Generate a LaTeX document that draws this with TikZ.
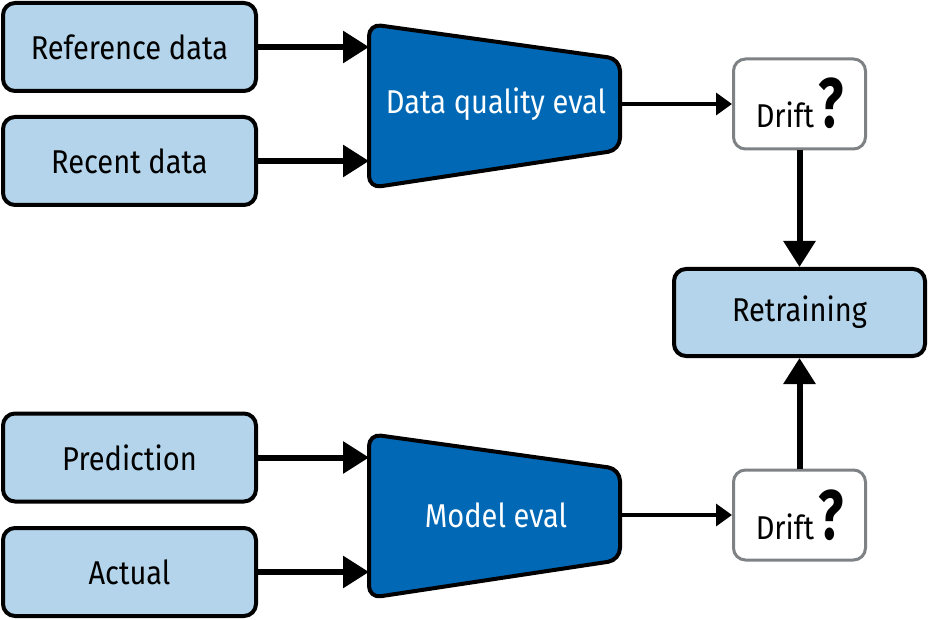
\documentclass[tikz,border=0pt]{standalone}
\usepackage{fontspec}
\setmainfont{Fira Sans}[FakeStretch=0.88]
\usetikzlibrary{arrows.meta}
\definecolor{lblue}{HTML}{B3D4EA}
\definecolor{dblue}{HTML}{0068B5}
\definecolor{bgray}{HTML}{7E8285}
\tikzset{
  lbl/.style={font=\fontsize{33}{36}\selectfont},
  inbox/.style={draw=black, line width=4pt, fill=lblue, rounded corners=12pt, minimum width=253pt, minimum height=88pt, inner sep=0pt, lbl},
  evalshape/.style={draw=black, line width=4pt, fill=dblue, rounded corners=12pt},
  evaltext/.style={text=white, lbl},
  driftbox/.style={draw=bgray, line width=3pt, fill=white, rounded corners=12pt, minimum width=132pt, minimum height=90pt, inner sep=0pt},
  thickarr/.style={line width=6pt, -{Triangle[length=26pt, width=31pt]}},
  thinarr/.style={line width=3.5pt, -{Triangle[length=16pt, width=22pt]}},
}
\newcommand{\driftlabel}{\fontsize{33}{36}\selectfont Drift\hspace{4pt}\scalebox{0.85}[1]{\bfseries\fontsize{70}{70}\selectfont ?}}
\begin{document}
\begin{tikzpicture}[x=1pt, y=-1pt]
\useasboundingbox (0,0) rectangle (929,620);
% inputs
\node[inbox] (ref) at (129.5,47) {Reference data};
\node[inbox] (rec) at (129.5,161) {Recent data};
\node[inbox] (pred) at (129.5,457.5) {Prediction};
\node[inbox] (act) at (129.5,572) {Actual};
% data quality eval
\draw[evalshape] (369,24) -- (369,188) -- (620,150) -- (620,59) -- cycle;
\node[evaltext] (dq) at (496,104) {Data quality eval};
\coordinate (dqin1) at (369,47);
\coordinate (dqin2) at (369,161);
\coordinate (dqout) at (620,104);
% model eval
\draw[evalshape] (369,434) -- (369,598) -- (620,560) -- (620,469) -- cycle;
\node[evaltext] (me) at (496,515) {Model eval};
\coordinate (mein1) at (369,457.5);
\coordinate (mein2) at (369,572);
\coordinate (meout) at (620,515);
% drift boxes
\node[driftbox] (d1) at (799.5,104) {};
\node[anchor=base] (d1t) at (799.5,128) {\driftlabel};
\node[driftbox] (d2) at (799.5,515) {};
\node[anchor=base] (d2t) at (799.5,539) {\driftlabel};
% retraining
\node[inbox, minimum width=251pt, minimum height=87pt] (rt) at (799.5,312.5) {Retraining};
% connectors
\draw[thickarr] (ref.east) -- (dqin1);
\draw[thickarr] (rec.east) -- (dqin2);
\draw[thickarr] (pred.east) -- (mein1);
\draw[thickarr] (act.east) -- (mein2);
\draw[thinarr] (dqout) -- (d1.west);
\draw[thinarr] (meout) -- (d2.west);
\draw[thickarr] (d1.south) -- (rt.north);
\draw[thickarr] (d2.north) -- (rt.south);
\end{tikzpicture}
\end{document}
